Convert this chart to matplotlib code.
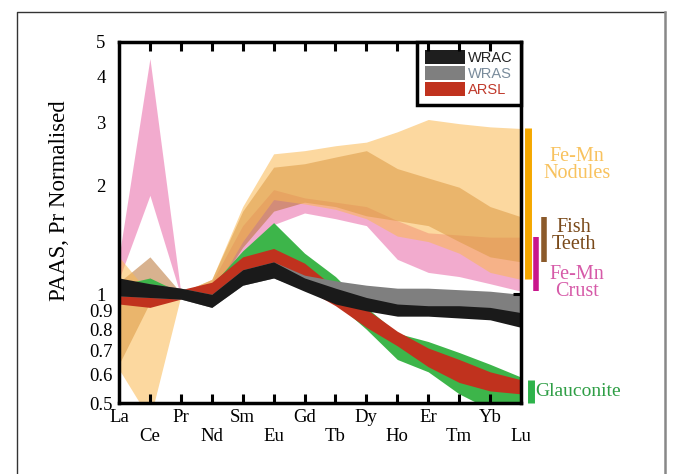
import matplotlib
matplotlib.use("Agg")
import matplotlib.pyplot as plt
from matplotlib.patches import Patch
from matplotlib.lines import Line2D
from matplotlib.ticker import NullLocator, NullFormatter
import matplotlib.transforms as mtransforms

plt.rcParams['font.family'] = ['Liberation Serif', 'DejaVu Serif']

# Seltene Erden, PAAS- und Pr-normiert
elementos = ['La', 'Ce', 'Pr', 'Nd', 'Sm', 'Eu', 'Gd', 'Tb', 'Dy', 'Ho', 'Er', 'Tm', 'Yb', 'Lu']
x = list(range(len(elementos)))

# campos de referencia (min / max)
crosta_min = [1.10, 1.88, 0.99, 1.00, 1.30, 1.56, 1.68, 1.62, 1.55, 1.25, 1.15, 1.12, 1.07, 1.02]
crosta_max = [1.27, 4.50, 1.01, 1.08, 1.55, 1.95, 1.85, 1.80, 1.75, 1.60, 1.48, 1.46, 1.44, 1.44]
dentes_min = [0.64, 0.95, 0.99, 1.00, 1.35, 1.70, 1.80, 1.75, 1.65, 1.60, 1.55, 1.40, 1.27, 1.23]
dentes_max = [1.08, 1.27, 1.01, 1.10, 1.70, 2.25, 2.30, 2.40, 2.50, 2.23, 2.10, 1.98, 1.75, 1.64]
nodulos_min = [0.62, 0.45, 0.99, 1.00, 1.40, 1.83, 1.78, 1.72, 1.62, 1.45, 1.40, 1.30, 1.15, 1.10]
nodulos_max = [1.27, 1.00, 1.01, 1.10, 1.75, 2.45, 2.50, 2.58, 2.64, 2.82, 3.05, 2.97, 2.91, 2.88]
glauc_min = [0.97, 0.95, 0.99, 1.00, 1.15, 1.30, 1.10, 0.95, 0.80, 0.66, 0.61, 0.53, 0.48, 0.50]
glauc_max = [1.06, 1.11, 1.01, 1.06, 1.32, 1.58, 1.30, 1.12, 0.92, 0.78, 0.74, 0.69, 0.64, 0.59]

# amostras
arsl_min = [0.94, 0.92, 0.97, 1.00, 1.10, 1.15, 1.04, 0.93, 0.81, 0.72, 0.63, 0.57, 0.54, 0.53]
arsl_max = [1.05, 1.03, 1.03, 1.08, 1.27, 1.34, 1.22, 1.04, 0.91, 0.79, 0.71, 0.66, 0.61, 0.58]
wras_min = [0.99, 0.98, 0.97, 0.92, 1.06, 1.11, 1.03, 0.95, 0.92, 0.89, 0.88, 0.88, 0.87, 0.85]
wras_max = [1.10, 1.07, 1.04, 1.00, 1.17, 1.23, 1.13, 1.09, 1.06, 1.04, 1.04, 1.03, 1.02, 1.00]
wrac_min = [0.99, 0.98, 0.97, 0.92, 1.06, 1.11, 1.02, 0.94, 0.90, 0.87, 0.87, 0.86, 0.85, 0.81]
wrac_max = [1.11, 1.07, 1.04, 1.00, 1.17, 1.23, 1.11, 1.04, 0.98, 0.94, 0.93, 0.93, 0.92, 0.89]

yvals = [0.5, 0.6, 0.7, 0.8, 0.9, 1, 2, 3, 4, 5]
ylabels = ['0.5', '0.6', '0.7', '0.8', '0.9', '1', '2', '3', '4', '5']

fig = plt.figure(figsize=(6.75, 4.74), dpi=100)
ax = fig.add_axes([119 / 675, 1 - 403 / 474, 402 / 675, 361 / 474])

# campos
ax.fill_between(x, crosta_min, crosta_max, color='#EC7FB5', alpha=0.65, lw=0)
ax.fill_between(x, dentes_min, dentes_max, color='#B87333', alpha=0.55, lw=0)
ax.fill_between(x, nodulos_min, nodulos_max, color='#FAB850', alpha=0.55, lw=0)
ax.fill_between(x, glauc_min, glauc_max, color='#3DB54A', lw=0)
ax.fill_between(x, arsl_min, arsl_max, color='#C0321E', lw=0)
ax.fill_between(x, wras_min, wras_max, color='#7F7F7F', lw=0)
ax.fill_between(x, wrac_min, wrac_max, color='#1A1A1A', lw=0)

ax.set_xlim(0, 13)
ax.set_yscale('log')
ax.set_ylim(0.5, 5)

ax.set_yticks(yvals)
ax.set_yticklabels(ylabels)
ax.yaxis.set_minor_locator(NullLocator())
ax.yaxis.set_minor_formatter(NullFormatter())
ax.tick_params(axis='y', which='both', length=0, pad=13, labelsize=13.5)
for t in ax.get_yticklabels():
    t.set_horizontalalignment('center')

# rótulos alternados
ax.set_xticks(x[0::2])
ax.set_xticklabels(elementos[0::2])
ax.set_xticks(x[1::2], minor=True)
ax.set_xticklabels(elementos[1::2], minor=True)
ax.tick_params(axis='x', which='both', length=0, labelsize=13.5)
ax.tick_params(axis='x', which='major', pad=4)
ax.tick_params(axis='x', which='minor', pad=18)

for s in ax.spines.values():
    s.set_linewidth(2.5)

ax.set_ylabel('PAAS, Pr Normalised', fontsize=16.5)
ax.yaxis.set_label_coords(-0.122, 0.56)

# tracinhos para dentro, desenhados no nível da figura
to_fig = ax.transData + fig.transFigure.inverted()
y_base = to_fig.transform((0, 0.5))[1]
y_topo = to_fig.transform((0, 5))[1]
dy = 9 / 474
for xi in x[1:-1]:
    xf = to_fig.transform((xi, 1.0))[0]
    fig.add_artist(Line2D([xf, xf], [y_base, y_base + dy], transform=fig.transFigure,
                          color='black', lw=2.2, solid_capstyle='butt'))
    fig.add_artist(Line2D([xf, xf], [y_topo - dy, y_topo], transform=fig.transFigure,
                          color='black', lw=2.2, solid_capstyle='butt'))
x_dir, y_um = to_fig.transform((13, 1.0))
fig.add_artist(Line2D([x_dir - 8 / 675, x_dir], [y_um, y_um], transform=fig.transFigure,
                      color='black', lw=2.2, solid_capstyle='butt'))

# legenda
handles = [Patch(facecolor='#1E1E1E', edgecolor='none', label='WRAC'),
           Patch(facecolor='#7F7F7F', edgecolor='none', label='WRAS'),
           Patch(facecolor='#C0321E', edgecolor='none', label='ARSL')]
leg = ax.legend(handles=handles, loc='upper right', borderaxespad=0, fancybox=False,
                framealpha=1, edgecolor='black', handlelength=2.8, handleheight=1.15,
                labelspacing=0.05, handletextpad=0.2, borderpad=0.55,
                prop={'family': 'Liberation Sans', 'size': 10.5},
                labelcolor=['#222222', '#7A8C9C', '#C0392B'])
leg.get_frame().set_linewidth(2.5)

# barras laterais com os campos em Lu
trans = mtransforms.blended_transform_factory(ax.transAxes, ax.transData)
ax.vlines(1.017, nodulos_min[-1], nodulos_max[-1], transform=trans, color='#F5A800',
          lw=5, clip_on=False)
ax.vlines(1.037, crosta_min[-1], crosta_max[-1], transform=trans, color='#C8168C',
          lw=4, clip_on=False)
ax.vlines(1.057, dentes_min[-1], dentes_max[-1], transform=trans, color='#8B5A2B',
          lw=4, clip_on=False)
ax.vlines(1.024, 0.5, glauc_max[-1] * 0.98, transform=trans, color='#2DB34A',
          lw=5, clip_on=False)

def px(xp, yp):
    return xp / 675, 1 - yp / 474

fig.text(*px(577, 165), 'Fe-Mn\nNodules', ha='center', va='center', fontsize=14.5,
         color='#F8C25E', linespacing=0.9)
fig.text(*px(574, 236), 'Fish\nTeeth', ha='center', va='center', fontsize=14.5,
         color='#7A4A1A', linespacing=0.9)
fig.text(*px(577, 283), 'Fe-Mn\nCrust', ha='center', va='center', fontsize=14.5,
         color='#D65AA8', linespacing=0.9)
fig.text(*px(535, 392), 'Glauconite', ha='left', va='center', fontsize=14,
         color='#2E9E45')

# moldura
fig.add_artist(Line2D([17 / 675, 17 / 675, 665 / 675], [0, 1 - 12 / 474, 1 - 12 / 474],
                      transform=fig.transFigure, color='#333333', lw=1))
fig.add_artist(Line2D([665 / 675, 665 / 675], [1 - 12 / 474, 0],
                      transform=fig.transFigure, color='#888888', lw=1.8))

fig.savefig('out.png', dpi=100)
